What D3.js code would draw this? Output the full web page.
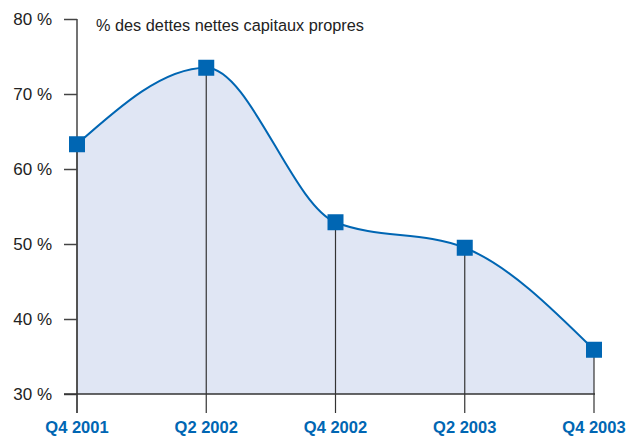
<!DOCTYPE html>
<html>
<head>
<meta charset="utf-8">
<script src="https://cdn.jsdelivr.net/npm/d3@7"></script>
<style>
  body { margin: 0; background: #fff; }
  svg { display: block; font-family: "Liberation Sans", Arial, sans-serif; }
</style>
</head>
<body>
<svg width="629" height="438"></svg>
<script>
// données
const quarters = ["Q4 2001", "Q2 2002", "Q4 2002", "Q2 2003", "Q4 2003"];
const ratios = [63.3, 73.5, 52.9, 49.5, 35.9];
const yTicks = [30, 40, 50, 60, 70, 80];
const title = "% des dettes nettes capitaux propres";

const blue = "#0066b3";
const svg = d3.select("svg");

const x = d3.scalePoint().domain(quarters).range([77, 594]);
const y = d3.scaleLinear().domain([30, 80]).range([394, 19]);

const data = quarters.map((q, i) => ({ q: q, v: ratios[i] }));

// aire sous la courbe
svg.append("path")
    .datum(data)
    .attr("fill", "#e0e6f4")
    .attr("d", d3.area()
        .x(d => x(d.q))
        .y0(y(30))
        .y1(d => y(d.v))
        .curve(d3.curveMonotoneX));

// lignes verticales
svg.selectAll(".drop")
    .data(data)
    .enter().append("line")
    .attr("x1", d => x(d.q))
    .attr("x2", d => x(d.q))
    .attr("y1", d => y(d.v))
    .attr("y2", 413)
    .attr("stroke", "#333")
    .attr("stroke-width", 1.2);

// axe vertical
const yAxis = svg.append("g")
    .attr("transform", "translate(77,0)")
    .call(d3.axisLeft(y).tickValues(yTicks).tickSize(13).tickPadding(12)
        .tickFormat(d => d + " %"));
yAxis.select(".domain").remove();
yAxis.selectAll(".tick line").attr("stroke", "#444").attr("stroke-width", 1.5);
yAxis.selectAll(".tick text")
    .attr("fill", "#222")
    .style("font-size", "17px")
    .style("font-family", "Liberation Sans, Arial, sans-serif");

svg.append("line")
    .attr("x1", 77).attr("x2", 77)
    .attr("y1", y(80)).attr("y2", 413)
    .attr("stroke", "#444").attr("stroke-width", 1.5);

// axe horizontal
svg.append("line")
    .attr("x1", 64).attr("x2", 595)
    .attr("y1", y(30)).attr("y2", y(30))
    .attr("stroke", "#333").attr("stroke-width", 1.5);

svg.selectAll(".xlab")
    .data(quarters)
    .enter().append("text")
    .attr("x", d => x(d))
    .attr("y", 433)
    .attr("text-anchor", "middle")
    .attr("fill", blue)
    .style("font-size", "16.5px")
    .style("font-weight", "bold")
    .text(d => d);

// courbe
svg.append("path")
    .datum(data)
    .attr("fill", "none")
    .attr("stroke", blue)
    .attr("stroke-width", 2)
    .attr("d", d3.line()
        .x(d => x(d.q))
        .y(d => y(d.v))
        .curve(d3.curveMonotoneX));

// marqueurs
svg.selectAll(".mark")
    .data(data)
    .enter().append("rect")
    .attr("x", d => x(d.q) - 8)
    .attr("y", d => y(d.v) - 8)
    .attr("width", 16)
    .attr("height", 16)
    .attr("fill", blue);

svg.append("text")
    .attr("x", 96)
    .attr("y", 31)
    .attr("fill", "#222")
    .style("font-size", "16.3px")
    .text(title);
</script>
</body>
</html>
